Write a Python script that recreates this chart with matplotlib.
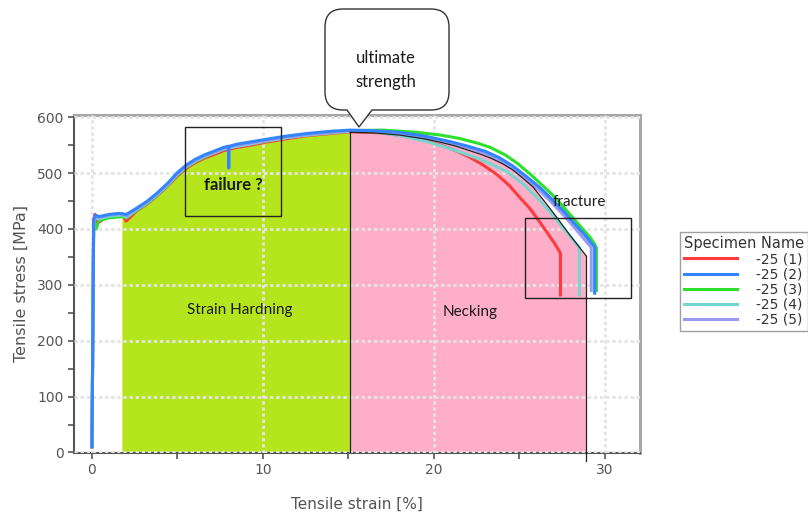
import numpy as np
import matplotlib.pyplot as plt
from matplotlib.path import Path
from matplotlib.patches import PathPatch, Rectangle

# tensile test curves, strain [%] / stress [MPa]
strain_1 = [0.0, 0.1, 0.18, 0.3, 1.0, 1.8, 2.0, 2.6, 3.2, 3.8, 4.4, 5.0, 5.5, 6.0, 6.6,
            7.2, 7.7, 8.5, 9.3, 10.1, 11.3, 12.6, 14.0, 15.1, 17.0, 18.5, 19.5, 20.4,
            21.2, 22.0, 22.8, 23.7, 24.4, 25.0, 25.6, 26.2, 26.7, 27.1, 27.3, 27.4, 27.4]
stress_1 = [10, 418, 426, 410, 424, 425, 414, 432, 444, 459, 476, 495, 508, 518, 527,
            534, 540, 546, 550, 555, 561, 567, 571, 574, 572, 565, 558, 550,
            541, 530, 516, 497, 478, 457, 437, 412, 390, 372, 362, 356, 282]

strain_2 = [0.0, 0.1, 0.2, 0.4, 1.0, 1.6, 2.0, 2.6, 3.2, 3.8, 4.4, 5.0, 5.5, 6.0, 6.6,
            7.2, 7.7, 7.98, 8.0, 8.02, 8.5, 9.3, 10.1, 11.3, 12.6, 14.0, 15.1, 16.5,
            18.0, 19.5, 21.0, 22.0, 23.0, 23.8, 24.6, 25.4, 26.2, 26.9, 27.6, 28.2,
            28.8, 29.2, 29.4, 29.4]
stress_2 = [10, 415, 425, 422, 426, 428, 426, 437, 449, 464, 481, 501, 514, 524, 533,
            540, 546, 548, 509, 548, 552, 556, 560, 566, 571, 575, 577, 576,
            573, 566, 556, 548, 539, 528, 513, 494, 474, 453, 431, 410,
            390, 375, 368, 285]

strain_3 = [0.0, 0.1, 0.25, 0.4, 1.0, 1.8, 2.0, 2.6, 3.2, 3.8, 4.4, 5.0, 5.5, 6.0, 6.6,
            7.2, 7.7, 8.5, 9.3, 10.1, 11.3, 12.6, 14.0, 15.1, 17.0, 19.0, 20.4, 21.5,
            22.5, 23.3, 24.2, 24.9, 25.6, 26.2, 26.9, 27.5, 28.1, 28.7, 29.1, 29.4,
            29.5, 29.5]
stress_3 = [10, 410, 400, 415, 420, 422, 420, 433, 445, 460, 477, 497, 510, 520, 529,
            537, 543, 549, 553, 557, 563, 569, 573, 576, 577, 573, 568, 562,
            554, 546, 532, 517, 499, 482, 462, 442, 421, 400, 386, 373,
            366, 290]

strain_4 = [0.0, 0.1, 0.2, 0.4, 1.0, 1.8, 2.0, 2.6, 3.2, 3.8, 4.4, 5.0, 5.5, 6.0, 6.6,
            7.2, 7.7, 8.5, 9.3, 10.1, 11.3, 12.6, 14.0, 15.1, 16.5, 18.0, 19.5, 20.4,
            21.5, 22.5, 23.3, 24.3, 25.2, 26.0, 26.8, 27.6, 28.2, 28.5, 28.5]
stress_4 = [10, 412, 420, 418, 423, 425, 421, 434, 446, 461, 478, 498, 511, 521, 530,
            537, 543, 548, 552, 557, 563, 568, 572, 575, 574, 567, 557, 549,
            538, 527, 517, 502, 481, 457, 430, 400, 378, 367, 282]

strain_5 = [0.0, 0.1, 0.2, 0.4, 1.0, 1.8, 2.0, 2.6, 3.2, 3.8, 4.4, 5.0, 5.5, 6.0, 6.6,
            7.2, 7.7, 8.5, 9.3, 10.1, 11.3, 12.6, 14.0, 15.1, 16.5, 18.0, 19.5, 21.0,
            22.0, 23.0, 23.8, 24.6, 25.4, 26.2, 26.9, 27.6, 28.2, 28.7, 29.0, 29.2, 29.2]
stress_5 = [10, 414, 423, 420, 425, 427, 423, 435, 447, 462, 479, 499, 512, 522, 531,
            538, 544, 550, 554, 558, 564, 569, 573, 576, 575, 571, 564, 553,
            545, 535, 523, 508, 489, 468, 447, 424, 403, 385, 374, 367, 290]

labels = ['-25 (1)', '-25 (2)', '-25 (3)', '-25 (4)', '-25 (5)']
colors = ['#ff3b3b', '#3385ff', '#2ee02e', '#74d6cf', '#9a9af0']

# upper edge of the strain hardening zone
hard_x = [1.75, 2.0, 2.6, 3.2, 3.8, 4.4, 5.0, 5.5, 6.0, 6.6, 7.2, 7.7, 8.5, 9.3, 10.1,
          11.3, 12.6, 14.0, 15.1]
hard_y = [421, 419, 431, 443, 458, 475, 494, 507, 517, 526, 533, 539, 545, 549, 554,
          560, 566, 570, 573]

# upper edge of the necking zone
neck_x = [15.1, 16.5, 18.0, 19.5, 20.4, 21.2, 22.0, 22.7, 23.3, 24.0, 24.6, 25.2, 25.8,
          26.5, 27.2, 28.0, 28.9]
neck_y = [573, 572, 568, 561, 555, 549, 541, 534, 527, 517, 506, 491, 475, 448, 420,
          387, 352]

W, H = 808, 515
fig = plt.figure(figsize=(W / 100, H / 100), dpi=100)
ax = fig.add_axes([74 / W, 1 - 453 / H, (640 - 74) / W, (453 - 115) / H])

ax.fill_between(hard_x, 0, hard_y, color='#b5e61d', lw=0, zorder=1)
ax.fill_between(neck_x, 0, neck_y, color='#ffaec9', lw=0, zorder=1)
ax.plot(neck_x, neck_y, color='#222222', lw=0.9, zorder=4)
ax.plot([15.1, 15.1], [0, 573], color='#222222', lw=0.9, zorder=4)
ax.plot([28.9, 28.9], [-16, 352], color='#222222', lw=0.9, zorder=4, clip_on=False)

series = [(strain_1, stress_1), (strain_3, stress_3), (strain_4, stress_4),
          (strain_5, stress_5), (strain_2, stress_2)]
order = [0, 2, 3, 4, 1]
handles = {}
for (sx, sy), i in zip(series, order):
    ln, = ax.plot(sx, sy, color=colors[i], lw=2.2, zorder=3, solid_joinstyle='round')
    handles[i] = ln

ax.set_xlim(-1.05, 32.05)
ax.set_ylim(-1, 604)
ax.set_xticks([0, 10, 20, 30])
ax.set_xticks([5, 15, 25], minor=True)
ax.set_yticks(range(0, 601, 100))
ax.set_yticks(range(50, 601, 100), minor=True)
ax.tick_params(which='both', direction='out', length=4, width=1.2, color='#555555',
               labelcolor='#555555', labelsize=10)
ax.set_axisbelow(False)
ax.grid(True, which='major', color='#e4e4e4', lw=2, linestyle=(0, (1.2, 1)))

for side in ['left', 'bottom']:
    ax.spines[side].set_color('#555555')
    ax.spines[side].set_linewidth(1.5)
for side in ['top', 'right']:
    ax.spines[side].set_color('#a8a8a8')
    ax.spines[side].set_linewidth(2.2)

ax.set_xlabel('Tensile strain [%]', fontsize=11, color='#555555', labelpad=14)
ax.set_ylabel('Tensile stress [MPa]', fontsize=11.5, color='#555555', labelpad=6)

# annotation boxes
ax.add_patch(Rectangle((5.44, 423), 5.6, 159, fill=False, ec='#222222', lw=1, zorder=5))
ax.add_patch(Rectangle((25.3, 277), 6.2, 143, fill=False, ec='#222222', lw=1, zorder=5))

note = dict(family='Lato', fontsize=11, color='#1a1a1a', ha='center', va='center', zorder=6)
ax.text(8.25, 479, 'failure ?', fontweight='bold', **dict(note, fontsize=12))
ax.text(8.65, 255, 'Strain Hardning', **note)
ax.text(22.1, 252, 'Necking', **note)
ax.text(28.5, 448, 'fracture', **note)

# callout bubble with pointer, drawn in pixel space
def px(x, y):
    return (x / W, 1 - y / H)

L, R, T, B, r = 325, 449, 9, 110, 18
verts = [px(347, B), px(359, 127), px(372, B), px(R - r, B), px(R, B), px(R, B - r),
         px(R, T + r), px(R, T), px(R - r, T), px(L + r, T), px(L, T), px(L, T + r),
         px(L, B - r), px(L, B), px(L + r, B), px(347, B)]
codes = [Path.MOVETO, Path.LINETO, Path.LINETO, Path.LINETO, Path.CURVE3, Path.CURVE3,
         Path.LINETO, Path.CURVE3, Path.CURVE3, Path.LINETO, Path.CURVE3, Path.CURVE3,
         Path.LINETO, Path.CURVE3, Path.CURVE3, Path.CLOSEPOLY]
bubble = PathPatch(Path(verts, codes), transform=fig.transFigure, fc='white',
                   ec='#333333', lw=1, zorder=10)
fig.patches.append(bubble)
fig.text(386 / W, 1 - 70 / H, 'ultimate\nstrength', family='Lato', fontsize=12,
         color='#1a1a1a', ha='center', va='center', linespacing=1.6, zorder=11)

leg = fig.legend([handles[i] for i in range(5)], labels, title='Specimen Name',
                 loc='upper left', bbox_to_anchor=(680 / W, 1 - 232 / H),
                 fontsize=10, title_fontsize=10.5, alignment='left',
                 frameon=True, fancybox=False, edgecolor='#888888',
                 handlelength=3.8, handletextpad=1.4, labelspacing=0.08,
                 borderpad=0.3, borderaxespad=0)
leg.get_frame().set_linewidth(1)
for t in leg.get_texts():
    t.set_color('#333333')
leg.get_title().set_color('#333333')

fig.savefig('out.png', dpi=100)
